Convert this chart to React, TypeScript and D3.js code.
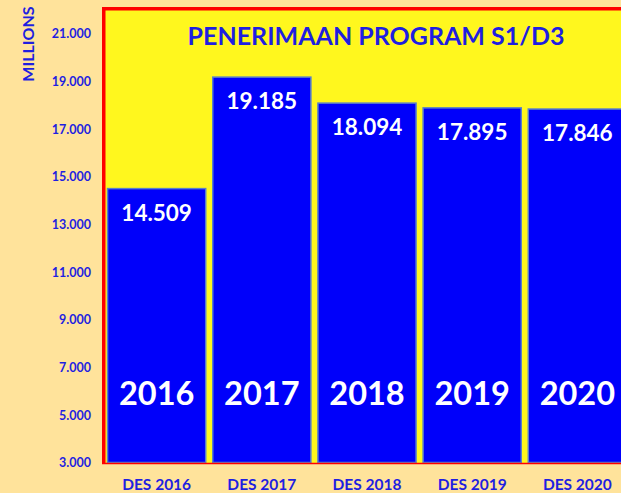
import React from "react";
import * as d3 from "d3";

const categories = ["DES 2016", "DES 2017", "DES 2018", "DES 2019", "DES 2020"];
const years = ["2016", "2017", "2018", "2019", "2020"];
const values = [14509, 19185, 18094, 17895, 17846];
const yTicks = [3000, 5000, 7000, 9000, 11000, 13000, 15000, 17000, 19000, 21000];
const title = "PENERIMAAN PROGRAM S1/D3";
const yAxisTitle = "MILLIONS";

const W = 621;
const H = 493;
const plotLeft = 104;
const plotTop = 9;
const plotBottom = 463;
const plotRight = 630;

const locale = d3.formatLocale({ decimal: ",", thousands: ".", grouping: [3], currency: ["Rp", ""] });
const fmt = locale.format(",.0f");

const FONT = "Lato, 'Open Sans', sans-serif";
const BLUE_TEXT = "#1f1fe0";

export default function App() {
  const x = d3
    .scaleBand<string>()
    .domain(categories)
    .range([plotLeft, plotRight])
    .paddingInner(0.067)
    .paddingOuter(0.034);
  const y = d3.scaleLinear().domain([3000, 22000]).range([plotBottom, plotTop + 1]);

  return (
    <svg
      width={W}
      height={H}
      style={{ position: "absolute", left: 0, top: 0, display: "block" }}
      xmlns="http://www.w3.org/2000/svg"
    >
      <rect x={0} y={0} width={W} height={H} fill="#ffe39b" />
      {/* plot area */}
      <rect x={plotLeft} y={plotTop} width={plotRight - plotLeft} height={plotBottom - plotTop} fill="#fff71e" />
      {/* bars */}
      {values.map((v, i) => {
        const bx = x(categories[i])!;
        const bw = x.bandwidth();
        const by = y(v);
        return (
          <g key={i}>
            <rect x={bx} y={by} width={bw} height={plotBottom - by - 0.5} fill="#0000fa" stroke="#5a7fc8" strokeWidth={1.5} />
            <text
              x={bx + bw / 2}
              y={by + 32}
              textAnchor="middle"
              fill="#ffffff"
              fontFamily={FONT}
              fontWeight={700}
              fontSize={22.5}
            >
              {fmt(v)}
            </text>
            <text
              x={bx + bw / 2}
              y={405}
              textAnchor="middle"
              fill="#ffffff"
              fontFamily={FONT}
              fontWeight={700}
              fontSize={32.5}
            >
              {years[i]}
            </text>
            <text
              x={bx + bw / 2}
              y={490}
              textAnchor="middle"
              fill={BLUE_TEXT}
              fontFamily={FONT}
              fontWeight={700}
              fontSize={15.5}
            >
              {categories[i]}
            </text>
          </g>
        );
      })}
      {/* frame */}
      <path
        d={`M${plotLeft - 0.25},${plotBottom} L${plotLeft - 0.25},${plotTop - 0.25} L${W + 10},${plotTop - 0.25}`}
        fill="none"
        stroke="#ff0000"
        strokeWidth={3.5}
      />
      <line x1={plotLeft - 2} x2={W + 10} y1={plotBottom + 0.5} y2={plotBottom + 0.5} stroke="#ff0000" strokeWidth={1.5} />
      {/* y ticks */}
      {yTicks.map((t) => (
        <text
          key={t}
          x={91}
          y={y(t)}
          dy="0.35em"
          textAnchor="end"
          fill={BLUE_TEXT}
          fontFamily={FONT}
          fontWeight={700}
          fontSize={12.5}
        >
          {fmt(t)}
        </text>
      ))}
      <text
        transform={`translate(34,44) rotate(-90)`}
        textAnchor="middle"
        fill={BLUE_TEXT}
        fontFamily={FONT}
        fontWeight={700}
        fontSize={16}
      >
        {yAxisTitle}
      </text>
      <text
        x={376}
        y={45}
        textAnchor="middle"
        fill={BLUE_TEXT}
        fontFamily={FONT}
        fontWeight={700}
        fontSize={25}
      >
        {title}
      </text>
    </svg>
  );
}
